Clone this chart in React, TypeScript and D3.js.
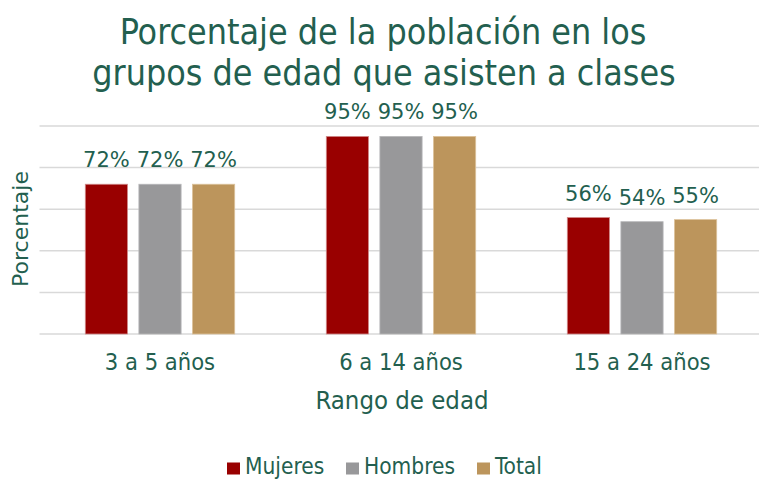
import React from "react";
import * as d3 from "d3";

const categories = ["3 a 5 años", "6 a 14 años", "15 a 24 años"];
const seriesNames = ["Mujeres", "Hombres", "Total"];
const mujeres = [72, 95, 56];
const hombres = [72, 95, 54];
const total = [72, 95, 55];
const yTicks = [0, 20, 40, 60, 80, 100];

const colors = ["#990000", "#98989a", "#bc955c"];
const strokes = ["#d08a8a", "#b8b8ba", "#dcc29c"];
const textColor = "#235f4f";
const titleFont = "'DejaVu Sans Condensed', 'Liberation Sans Narrow', Roboto, sans-serif";
const labelFont = "'DejaVu Sans', 'Open Sans', sans-serif";

export default function App() {
  const W = 759, H = 479;
  const seriesValues = [mujeres, hombres, total];
  const x0 = d3.scaleBand<string>().domain(categories).range([39.5, 762.5]).padding(0);
  const x1 = d3
    .scaleBand<string>()
    .domain(seriesNames)
    .range([45.8, x0.bandwidth() - 45.8])
    .paddingInner(0.212)
    .paddingOuter(0);
  const y = d3.scaleLinear().domain([0, 100]).range([334, 126]);

  return (
    <svg width={W} height={H} style={{ position: "absolute", left: 0, top: 0, background: "#fff" }}>
      <text x={383} y={44} textAnchor="middle" fill={textColor} fontFamily={titleFont} fontSize={35.5}>
        Porcentaje de la población en los
      </text>
      <text x={384} y={85} textAnchor="middle" fill={textColor} fontFamily={titleFont} fontSize={35.5}>
        grupos de edad que asisten a clases
      </text>
      {yTicks.map((t) => (
        <line key={t} x1={39.5} x2={W} y1={y(t)} y2={y(t)} stroke="#d9d9d9" strokeWidth={1.5} />
      ))}
      {categories.map((c, i) => (
        <g key={c} transform={`translate(${x0(c)},0)`}>
          {seriesNames.map((s, j) => {
            const v = seriesValues[j][i];
            const bx = x1(s)!;
            return (
              <g key={s}>
                <rect
                  x={bx}
                  y={y(v)}
                  width={x1.bandwidth()}
                  height={y(0) - y(v)}
                  fill={colors[j]}
                  stroke={strokes[j]}
                  strokeWidth={0.8}
                />
                <text
                  x={bx + x1.bandwidth() / 2}
                  y={y(v) - 17}
                  textAnchor="middle"
                  fill={textColor}
                  fontFamily={labelFont}
                  fontSize={21}
                >
                  {v}%
                </text>
              </g>
            );
          })}
          <text
            x={x0.bandwidth() / 2}
            y={370}
            textAnchor="middle"
            fill={textColor}
            fontFamily={titleFont}
            fontSize={23.5}
          >
            {c}
          </text>
        </g>
      ))}
      <text
        transform={`translate(28,229) rotate(-90)`}
        textAnchor="middle"
        fill={textColor}
        fontFamily={labelFont}
        fontSize={22}
      >
        Porcentaje
      </text>
      <text x={402} y={409} textAnchor="middle" fill={textColor} fontFamily={titleFont} fontSize={25.5}>
        Rango de edad
      </text>
      {(() => {
        const items = [
          { name: seriesNames[0], x: 227 },
          { name: seriesNames[1], x: 346 },
          { name: seriesNames[2], x: 477 },
        ];
        return items.map((it, j) => (
          <g key={it.name}>
            <rect x={it.x} y={462.5} width={13} height={12} fill={colors[j]} />
            <text x={it.x + 18} y={474} fill={textColor} fontFamily={titleFont} fontSize={22.5}>
              {it.name}
            </text>
          </g>
        ));
      })()}
    </svg>
  );
}
